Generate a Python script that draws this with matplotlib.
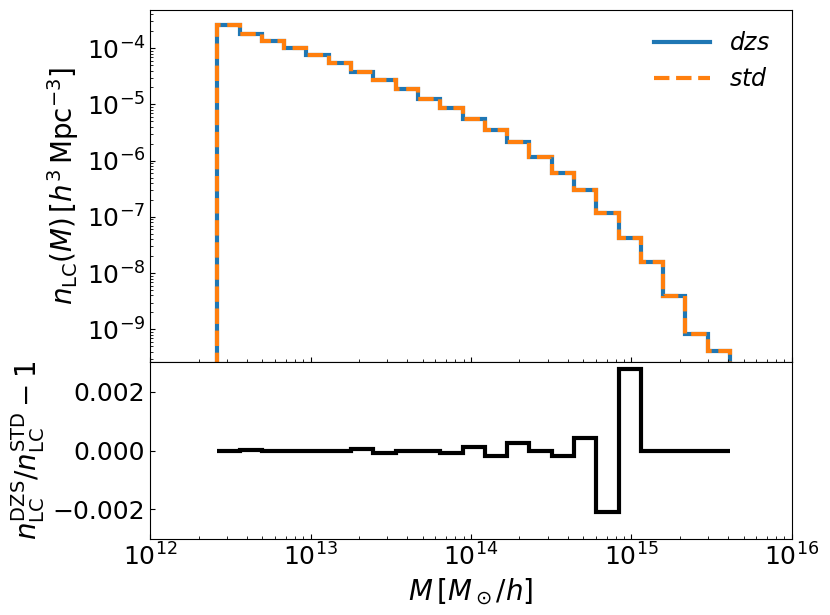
import numpy as np
import matplotlib
matplotlib.use('Agg')
import matplotlib.pyplot as plt

# ── Data ──────────────────────────────────────────────────
# log10 of the mass bin edges [M_sun/h]
log_edges = [12.418, 12.557, 12.696, 12.835, 12.974, 13.113, 13.252, 13.391,
             13.530, 13.669, 13.808, 13.947, 14.086, 14.225, 14.364, 14.503,
             14.642, 14.781, 14.920, 15.059, 15.198, 15.337, 15.476, 15.615]

# light-cone mass function, std run [h^3 Mpc^-3]
n_std = [2.60e-4, 1.80e-4, 1.35e-4, 1.00e-4, 7.50e-5, 5.40e-5, 3.83e-5,
         2.69e-5, 1.88e-5, 1.26e-5, 8.50e-6, 5.56e-6, 3.47e-6, 2.11e-6,
         1.16e-6, 6.00e-7, 2.98e-7, 1.16e-7, 4.24e-8, 1.56e-8, 3.98e-9,
         8.30e-10, 4.17e-10]

# relative difference dzs / std - 1
ratio = [0.0, 0.00001, 0.0, -0.00001, -0.00001, 0.0, 0.00005, -0.00007,
         -0.00002, -0.00002, -0.00009, 0.000137, -0.00017, 0.00026, 0.0,
         -0.0002, 0.00042, -0.00208, 0.00276, 0.0, 0.0, 0.0, 0.0]

edges = 10 ** np.array(log_edges)
n_std = np.array(n_std)
n_dzs = n_std * (1 + np.array(ratio))

# ── Figure ────────────────────────────────────────────────
fig, (ax_top, ax_bot) = plt.subplots(
    2, 1, figsize=(8.3, 6.15), dpi=100, sharex=True,
    gridspec_kw={'height_ratios': [2, 1], 'hspace': 0}
)
fig.subplots_adjust(left=0.181, right=0.954, top=0.984, bottom=0.124)

ax_top.stairs(n_dzs, edges, baseline=1e-14, color='#1f77b4',
              linewidth=3, label=r'$dzs$')
ax_top.stairs(n_std, edges, baseline=1e-14, color='#ff7f0e',
              linewidth=3, linestyle='--', label=r'$std$')
ax_top.set_xscale('log')
ax_top.set_yscale('log')
ax_top.set_xlim(1e12, 1e16)
ax_top.set_ylim(2.58e-10, 4.8e-4)
ax_top.set_ylabel(r'$n_{\rm LC}(M)\,[h^3\,{\rm Mpc}^{-3}]$', fontsize=20)
ax_top.legend(loc='upper right', frameon=False, fontsize=17,
              handlelength=2.4)

ax_bot.stairs(ratio, edges, baseline=None, color='k', linewidth=3)
ax_bot.set_ylim(-0.003, 0.003)
ax_bot.set_yticks([-0.002, 0.0, 0.002])
ax_bot.set_ylabel(r'$n_{\rm LC}^{\rm DZS}/n_{\rm LC}^{\rm STD}-1$',
                  fontsize=20)
ax_bot.set_xlabel(r'$M\,[M_\odot/h]$', fontsize=20)

for ax in (ax_top, ax_bot):
    ax.tick_params(which='both', direction='in', labelsize=18)

plt.savefig('out.png', dpi=100)
plt.close()
